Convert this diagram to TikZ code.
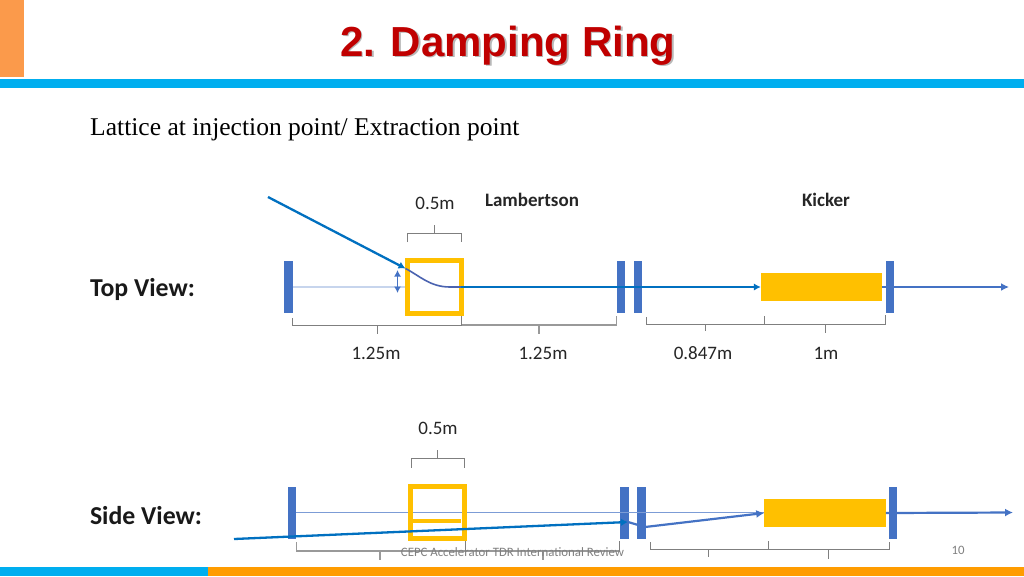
\documentclass[tikz,border=0pt]{standalone}
\usepackage{fontspec}
\setmainfont{Carlito}
\newfontfamily\arialf{Liberation Sans}
\newfontfamily\timesf{Liberation Serif}
\usetikzlibrary{arrows.meta}
\definecolor{topor}{HTML}{FB9A4B}
\definecolor{barblue}{HTML}{00AEEF}
\definecolor{botor}{HTML}{FF9C00}
\definecolor{magblue}{HTML}{4472C4}
\definecolor{beamblue}{HTML}{0070C0}
\definecolor{gold}{HTML}{FFC000}
\definecolor{titlered}{HTML}{C00000}
\definecolor{braket}{HTML}{7F7F7F}
\definecolor{curveblue}{HTML}{4A63B0}
\tikzset{
  x=1pt,y=-1pt,
  band/.style={fill=#1,draw=none},
  magnet/.style={fill=magblue,draw=none,minimum width=8.5pt,minimum height=52pt,inner sep=0pt,outer sep=0pt},
  kickerbox/.style={fill=gold,draw=none,minimum width=121.5pt,minimum height=28pt,inner sep=0pt,outer sep=0pt},
  lambbox/.style={draw=gold,line width=5pt,fill=none,minimum width=54pt,minimum height=52.5pt,inner sep=0pt,outer sep=0pt},
  beam/.style={draw=beamblue,line width=2.3pt},
  beamtip/.style={beam,-{Latex[length=7pt,width=7.5pt]}},
  outbeam/.style={draw=magblue,line width=2.2pt,-{Latex[length=8pt,width=8pt]}},
  brk/.style={draw=braket,line width=1pt},
  lbl/.style={inner sep=0pt,outer sep=0pt,anchor=base,font=\fontsize{19}{22}\selectfont,text=black!85},
  bold lbl/.style={lbl,font=\fontsize{19}{22}\selectfont\bfseries},
  view/.style={inner sep=0pt,outer sep=0pt,anchor=base west,font=\fontsize{25.8}{30}\selectfont\bfseries,text=black!90},
  foot/.style={inner sep=0pt,outer sep=0pt,anchor=base,font=\fontsize{12.8}{15}\selectfont,text=black!50},
}
\begin{document}
\begin{tikzpicture}
\useasboundingbox (0,0) rectangle (1024,576);
\fill[white] (0,0) rectangle (1024,576);
% bands
\fill[band=topor] (0,0) rectangle (24,77);
\fill[band=barblue] (0,79) rectangle (1024,88);
\fill[band=barblue] (0,567) rectangle (208,576);
\fill[band=botor] (208,567) rectangle (1024,576);
% title
\node[inner sep=0pt,anchor=base,text=black!28,font=\arialf\fontsize{42}{46}\selectfont\bfseries] (titleshadow) at (509.5,57.5) {2. Damping Ring};
\node[inner sep=0pt,anchor=base,text=titlered,font=\arialf\fontsize{42}{46}\selectfont\bfseries] (title) at (508,56) {2. Damping Ring};
\node[inner sep=0pt,anchor=base west,font=\timesf\fontsize{25.55}{28}\selectfont] (sub) at (90,135) {Lattice at injection point/ Extraction point};
% ---------- top view
\node[view] (topv) at (90,296) {Top View:};
\node[magnet] (tm1) at (288.5,287) {};
\node[magnet] (tm2) at (621,287) {};
\node[magnet] (tm3) at (638,287) {};
\node[magnet] (tm4) at (890,287) {};
\node[kickerbox] (tk) at (821.5,287) {};
\draw[draw=magblue!30,line width=1.5pt] (tm1.east |- 0,287) -- (405,287);
\node[lambbox] (tl) at (434.5,287) {};
\coordinate (tin) at (268,197);
\coordinate (tent) at (405.5,268.5);
\coordinate (texit) at (461,287);
\coordinate (tkin) at (tk.west);
\coordinate (tout) at (1009,287);
\draw[beamtip] (tin) -- (tent);
\draw[draw=curveblue,line width=1.6pt] (tent) .. controls (420,276) and (430,287) .. (450,287) -- (texit);
\draw[beamtip] (texit) -- (tkin);
\draw[outbeam] (tk.east) -- (tout);
\coordinate (tda) at (397.5,270);
\coordinate (tdb) at (397.5,293);
\draw[draw=magblue,line width=1.3pt,{Latex[length=6.5pt,width=7pt]}-{Latex[length=6.5pt,width=7pt]}] (tda) -- (tdb);
% top brackets
\draw[brk] (407.5,242) -- (407.5,233) -- (461,233) -- (461,242) (434,233) -- (434,225);
\draw[brk] (292.5,318) -- (292.5,325) -- (461.5,325) (461.5,316) -- (461.5,325) (377,325) -- (377,334);
\draw[brk,draw=braket!80,line width=1.2pt] (461.5,325) -- (616.5,325) -- (616.5,316) (539,325) -- (539,334);
\draw[brk] (646.5,317) -- (646.5,324) -- (885.5,324) -- (885.5,315) (764.5,316) -- (764.5,324) (705.5,324) -- (705.5,331) (825.5,324) -- (825.5,333);
% top labels
\node[lbl] (l05a) at (435,209.5) {0.5m};
\node[bold lbl] (llam) at (532,206.5) {Lambertson};
\node[bold lbl] (lkic) at (826,206.5) {Kicker};
\node[lbl] (l125a) at (376,359) {1.25m};
\node[lbl] (l125b) at (543,359) {1.25m};
\node[lbl] (l847) at (703,359) {0.847m};
\node[lbl] (l1m) at (826,359) {1m};
% ---------- side view
\node[view] (sidev) at (90,524.5) {Side View:};
\node[magnet] (sm1) at (292,513) {};
\node[magnet] (sm2) at (624.5,513) {};
\node[magnet] (sm3) at (641.5,513) {};
\node[magnet] (sm4) at (893,513) {};
\node[kickerbox] (sk) at (825,513) {};
\draw[draw=magblue!70,line width=0.9pt] (sm1.east |- 0,512.5) -- (sk.west |- 0,512.5);
\node[lambbox] (sl) at (437.8,512.7) {};
\coordinate (sbarl) at (411,520.5);
\coordinate (sbarr) at (461,520.5);
\draw[draw=gold,line width=4pt] (sbarl) -- (sbarr);
\coordinate (sin) at (234,539);
\coordinate (send) at (628,522);
\coordinate (skink) at (645,527);
\coordinate (skin) at (sk.west);
\coordinate (sout) at (1013,512.5);
\draw[beamtip] (sin) -- (send);
\draw[draw=magblue,line width=2.2pt] (send) -- (skink);
\draw[outbeam] (skink) -- (skin);
\draw[outbeam] (sk.east) -- (sout);
% side brackets
\draw[brk] (411,467.5) -- (411,458.5) -- (464.5,458.5) -- (464.5,467.5) (437.5,458.5) -- (437.5,450);
\draw[brk,draw=braket!80,line width=1.2pt] (296.5,542) -- (296.5,551) -- (619.5,551) (380,551) -- (380,560) (543,551) -- (543,560);
\draw[brk] (465,541) -- (465,551) (619.5,541) -- (619.5,551);
\draw[brk] (650.5,542) -- (650.5,549.5) -- (889.5,549.5) -- (889.5,542) (768,541) -- (768,549.5) (708.5,549.5) -- (708.5,557) (828.5,549.5) -- (828.5,559);
\node[lbl] (l05b) at (438,434.5) {0.5m};
% footer
\node[foot] (ftxt) at (512.5,556) {CEPC Accelerator TDR International Review};
\node[foot] (fnum) at (958,554) {10};
\end{tikzpicture}
\end{document}
